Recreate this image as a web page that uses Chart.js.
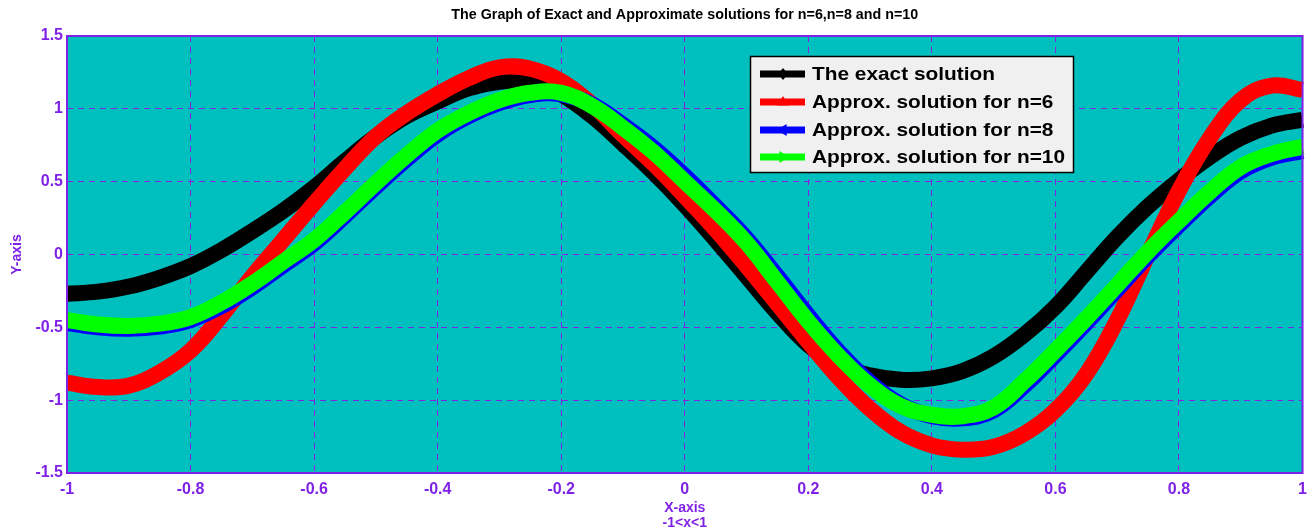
<!DOCTYPE html>
<html><head><meta charset="utf-8">
<script src="https://cdn.jsdelivr.net/npm/chart.js@4.4.0/dist/chart.umd.min.js"></script>
<style>html,body{margin:0;padding:0;background:#fff;overflow:hidden}canvas{display:block}</style>
</head><body>
<canvas id="c" width="1314" height="530"></canvas>
<script>
// ---- data ----
const xValues = [-1.00,-0.95,-0.90,-0.85,-0.80,-0.75,-0.70,-0.65,-0.60,-0.55,-0.50,-0.45,-0.40,-0.35,-0.30,-0.25,-0.20,-0.15,-0.10,-0.05,
                 0.00,0.05,0.10,0.15,0.20,0.25,0.30,0.35,0.40,0.45,0.50,0.55,0.60,0.65,0.70,0.75,0.80,0.85,0.90,0.95,1.00];
const exactSolution = [-0.27,-0.255,-0.22,-0.16,-0.08,0.03,0.16,0.30,0.46,0.64,0.81,0.95,1.05,1.14,1.185,1.19,1.10,0.95,0.76,0.56,
                       0.34,0.10,-0.15,-0.40,-0.62,-0.76,-0.83,-0.86,-0.85,-0.80,-0.70,-0.55,-0.36,-0.12,0.12,0.33,0.51,0.67,0.80,0.885,0.925];
const approxN6 = [-0.88,-0.91,-0.90,-0.81,-0.66,-0.42,-0.15,0.10,0.35,0.59,0.81,0.97,1.10,1.21,1.285,1.275,1.19,1.03,0.82,0.62,
                  0.40,0.17,-0.08,-0.34,-0.60,-0.85,-1.06,-1.22,-1.31,-1.34,-1.32,-1.23,-1.07,-0.82,-0.45,0.00,0.44,0.80,1.06,1.16,1.13];
const approxN8 = [-0.47,-0.50,-0.51,-0.495,-0.45,-0.355,-0.225,-0.075,0.075,0.265,0.465,0.655,0.825,0.95,1.04,1.095,1.10,1.03,0.89,0.73,
                  0.54,0.33,0.11,-0.15,-0.42,-0.67,-0.88,-1.03,-1.11,-1.125,-1.07,-0.90,-0.69,-0.47,-0.24,-0.01,0.20,0.40,0.57,0.665,0.71];
const approxN10 = [-0.45,-0.48,-0.49,-0.475,-0.43,-0.33,-0.20,-0.05,0.10,0.29,0.49,0.68,0.85,0.97,1.06,1.11,1.11,1.02,0.87,0.70,
                   0.50,0.30,0.08,-0.19,-0.46,-0.70,-0.90,-1.04,-1.10,-1.11,-1.05,-0.87,-0.66,-0.44,-0.21,0.02,0.23,0.43,0.60,0.69,0.74];
const seriesNames  = ['The exact solution','Approx. solution for n=6','Approx. solution for n=8','Approx. solution for n=10'];
const xTickValues  = [-1,-0.8,-0.6,-0.4,-0.2,0,0.2,0.4,0.6,0.8,1];
const xTickLabels  = ['-1','-0.8','-0.6','-0.4','-0.2','0','0.2','0.4','0.6','0.8','1'];
const yTickValues  = [-1.5,-1,-0.5,0,0.5,1,1.5];
const yTickLabels  = ['-1.5','-1','-0.5','0','0.5','1','1.5'];
const titleText    = 'The Graph of Exact and Approximate solutions for n=6,n=8 and n=10';
const xTitleLines  = ['X-axis','-1<x<1'];
const yTitleText   = 'Y-axis';

// ---- styles ----
const PURPLE = '#7F22E6';
const TEAL = '#00BFBF';
const colors = ['#000000','#FF0000','#0000FF','#00FF00'];
const markers = ['diamond','triUp','triLeft','triRight'];
const FONT = '"Liberation Sans", Arial, sans-serif';

function pts(ys){ return xValues.map((x,i)=>({x:x,y:ys[i]})); }
const seriesData = [exactSolution, approxN6, approxN8, approxN10];

function drawMarker(ctx, type, x, y, s){
  ctx.beginPath();
  if(type==='diamond'){ ctx.moveTo(x,y-s); ctx.lineTo(x+s*0.8,y); ctx.lineTo(x,y+s); ctx.lineTo(x-s*0.8,y); }
  else if(type==='triUp'){ ctx.moveTo(x,y-s); ctx.lineTo(x+s,y+s*0.6); ctx.lineTo(x-s,y+s*0.6); }
  else if(type==='triLeft'){ ctx.moveTo(x-s,y); ctx.lineTo(x+s*0.6,y-s); ctx.lineTo(x+s*0.6,y+s); }
  else { ctx.moveTo(x+s,y); ctx.lineTo(x-s*0.6,y-s); ctx.lineTo(x-s*0.6,y+s); }
  ctx.closePath(); ctx.fill();
}

const decor = {
  id:'decor',
  beforeDraw(chart){
    const a = chart.chartArea, ctx = chart.ctx;
    ctx.save();
    ctx.fillStyle = '#ffffff'; ctx.fillRect(0,0,chart.width,chart.height);
    ctx.fillStyle = TEAL; ctx.fillRect(a.left,a.top,a.right-a.left,a.bottom-a.top);
    ctx.restore();
  },
  afterDraw(chart){
    const a = chart.chartArea, ctx = chart.ctx;
    ctx.save();
    // axes box
    ctx.strokeStyle = PURPLE; ctx.lineWidth = 2;
    ctx.strokeRect(a.left, a.top, a.right-a.left, a.bottom-a.top);
    // title
    ctx.fillStyle = '#000'; ctx.font = 'bold 14px '+FONT;
    ctx.textAlign = 'center'; ctx.textBaseline = 'middle';
    ctx.save(); ctx.translate((a.left+a.right)/2, 15);
    const tw = ctx.measureText(titleText).width; ctx.scale(467/tw, 1.05);
    ctx.fillText(titleText, 0, 0); ctx.restore();
    // x title
    ctx.fillStyle = PURPLE; ctx.font = 'bold 14px '+FONT;
    ctx.fillText(xTitleLines[0], (a.left+a.right)/2, 508);
    ctx.fillText(xTitleLines[1], (a.left+a.right)/2, 523);
    // y title
    ctx.save(); ctx.translate(17, (a.top+a.bottom)/2); ctx.rotate(-Math.PI/2);
    ctx.font = 'bold 14px '+FONT; ctx.fillText(yTitleText, 0, 0); ctx.restore();
    // legend
    const L = 750, T = 56, W = 324, H = 117;
    ctx.fillStyle = '#F0F0F0'; ctx.fillRect(L,T,W,H);
    ctx.strokeStyle = '#000'; ctx.lineWidth = 1.5; ctx.strokeRect(L+0.5,T+0.5,W-1,H-1);
    const rows = [74,102,130,157];
    ctx.font = 'bold 19px '+FONT; ctx.textAlign='left'; ctx.textBaseline='middle';
    const lw = ctx.measureText(seriesNames[3]).width; const sx = 253/lw;
    seriesNames.forEach((name,i)=>{
      const y = rows[i];
      ctx.strokeStyle = colors[i]; ctx.lineWidth = 7; ctx.lineCap='butt';
      ctx.beginPath(); ctx.moveTo(760,y); ctx.lineTo(805,y); ctx.stroke();
      ctx.fillStyle = colors[i]; drawMarker(ctx, markers[i], 783, y, 6);
      ctx.fillStyle = '#000';
      ctx.save(); ctx.translate(812, y+1); ctx.scale(sx,1); ctx.fillText(name, 0, 0); ctx.restore();
    });
    ctx.restore();
  }
};

new Chart(document.getElementById('c'), {
  type:'line',
  data:{
    datasets: seriesData.map((d,i)=>({
      label: seriesNames[i],
      data: pts(d),
      borderColor: colors[i],
      backgroundColor: colors[i],
      borderWidth: 16,
      pointRadius: 0,
      borderCapStyle: 'butt',
      borderJoinStyle: 'round',
      tension: 0.4,
      fill: false,
      clip: 3,
      order: 4-i
    }))
  },
  options:{
    responsive:false, animation:false, devicePixelRatio:1,
    layout:{ padding:{ top:36, right:10, left:0, bottom:0 } },
    plugins:{ legend:{display:false}, title:{display:false}, tooltip:{enabled:false} },
    scales:{
      x:{
        type:'linear', min:-1, max:1,
        afterBuildTicks(s){ s.ticks = xTickValues.map(v=>({value:v})); },
        afterFit(s){ s.height = 57; },
        ticks:{ color:PURPLE, font:{family:FONT, size:16, weight:'bold'}, padding:7, maxRotation:0, autoSkip:false,
                callback:(v,i)=>xTickLabels[i] },
        grid:{ color:PURPLE, lineWidth:1, drawTicks:false },
        border:{ display:false, dash:[6,5] }
      },
      y:{
        type:'linear', min:-1.5, max:1.5,
        afterBuildTicks(s){ s.ticks = yTickValues.map(v=>({value:v})); },
        afterFit(s){ s.width = 67; },
        ticks:{ color:PURPLE, font:{family:FONT, size:16, weight:'bold'}, padding:4, autoSkip:false,
                callback:(v,i)=>yTickLabels[i] },
        grid:{ color:PURPLE, lineWidth:1, drawTicks:false },
        border:{ display:false, dash:[6,5] }
      }
    }
  },
  plugins:[decor]
});
</script>
</body></html>
